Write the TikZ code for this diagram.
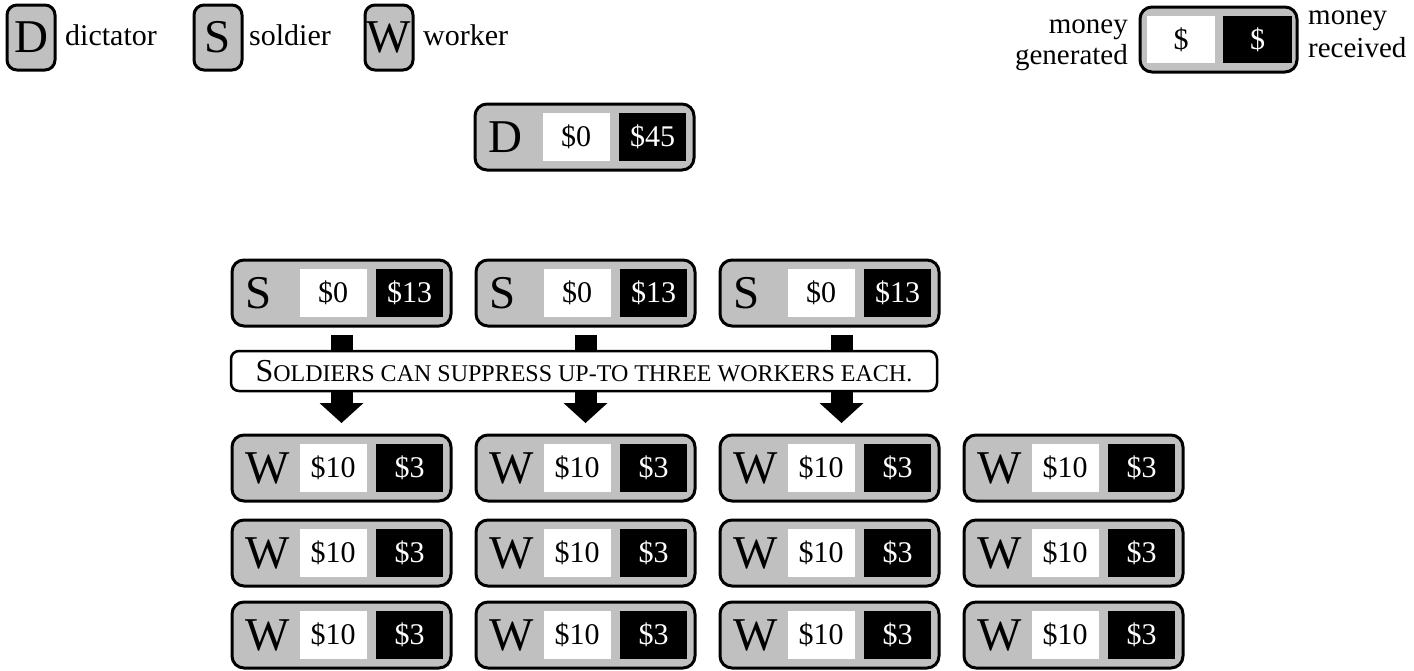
\documentclass[tikz,border=0pt]{standalone}
\usepackage{fontspec}
\setmainfont{Liberation Serif}
\usetikzlibrary{arrows.meta,calc}
\definecolor{cardgray}{HTML}{C0C0C0}
\tikzset{
  card/.style={draw=black, line width=3pt, fill=cardgray, rounded corners=12pt,
    minimum width=219pt, minimum height=66pt, inner sep=0pt, anchor=north west},
  minicard/.style={card, minimum width=48pt, minimum height=65pt, rounded corners=10pt,
    font=\fontsize{47}{47}\selectfont},
  keycard/.style={card, minimum width=157pt, minimum height=65pt},
  wbox/.style={fill=white, minimum width=67pt, minimum height=48pt, inner sep=0pt,
    font=\fontsize{30}{30}\selectfont},
  bbox/.style={wbox, fill=black, text=white},
  letter/.style={font=\fontsize{47}{47}\selectfont, inner sep=0pt, anchor=west},
  label/.style={font=\fontsize{30}{30}\selectfont, inner sep=0pt, anchor=base west},
  keylabel/.style={font=\fontsize{29}{29}\selectfont, inner sep=0pt},
  banner/.style={draw=black, line width=2.5pt, fill=white, rounded corners=8pt,
    minimum width=706pt, minimum height=40pt, inner sep=0pt},
  blockarrow/.style={line width=22pt, -{Triangle[width=44pt,length=20pt,line width=0pt]}},
}
\newcommand\mycard[6]{%
  \node[card] (#1) at (#2+1.5,#3+1.5) {};
  \node[letter] (#1l) at ([xshift=14.5pt]#1.west) {#4};
  \node[wbox] (#1g) at ([xshift=102.5pt]#1.west) {#5};
  \node[bbox] (#1r) at ([xshift=179pt]#1.west) {#6};
}
\begin{document}
\begin{tikzpicture}[x=1pt,y=-1pt]
\useasboundingbox (0,0) rectangle (1414,670);
\fill[white] (0,0) rectangle (1414,670);
% legend
\node[minicard] (kd) at (5.5,3.5) {D};
\node[label] (kdt) at (65,45) {dictator};
\node[minicard] (ks) at (192.5,3.5) {S};
\node[label] (kst) at (249,45) {soldier};
\node[minicard] (kw) at (363.5,3.5) {W};
\node[label] (kwt) at (423,45) {worker};
% key for money
\node[keycard] (key) at (1138.5,5.5) {};
\node[wbox, minimum width=68pt, minimum height=47pt] (keyg) at ([xshift=42.5pt]key.west) {\$};
\node[bbox, minimum width=69pt, minimum height=47pt] (keyr) at ([xshift=119pt]key.west) {\$};
\node[keylabel, anchor=base east] (kg1) at (1128,33) {money};
\node[keylabel, anchor=base east] (kg2) at (1128,64) {generated};
\node[keylabel, anchor=base west] (kr1) at (1308,24) {money};
\node[keylabel, anchor=base west] (kr2) at (1308,57) {received};
% dictator
\mycard{d}{472}{101}{D}{\$0}{\$45}
% soldiers
\mycard{s1}{229}{257}{S}{\$0}{\$13}
\mycard{s2}{473}{257}{S}{\$0}{\$13}
\mycard{s3}{717}{257}{S}{\$0}{\$13}
% workers
\foreach \r/\y in {1/432,2/517,3/599}{
  \foreach \c/\x in {1/229,2/473,3/717,4/961}{
    \mycard{w\r\c}{\x}{\y}{W}{\$10}{\$3}
  }
}
% arrows
\draw[blockarrow] ([yshift=-7.5pt]s1.south) -- ([yshift=10.5pt]w11.north);
\draw[blockarrow] ([yshift=-7.5pt]s2.south) -- ([yshift=10.5pt]w12.north);
\draw[blockarrow] ([xshift=12pt,yshift=-7.5pt]s3.south) -- ([xshift=12pt,yshift=10.5pt]w13.north);
% banner
\node[banner] (ban) at (584,371) {{\fontsize{32}{32}\selectfont S}{\fontsize{24}{24}\selectfont OLDIERS CAN SUPPRESS UP-TO THREE WORKERS EACH.}};
\end{tikzpicture}
\end{document}
